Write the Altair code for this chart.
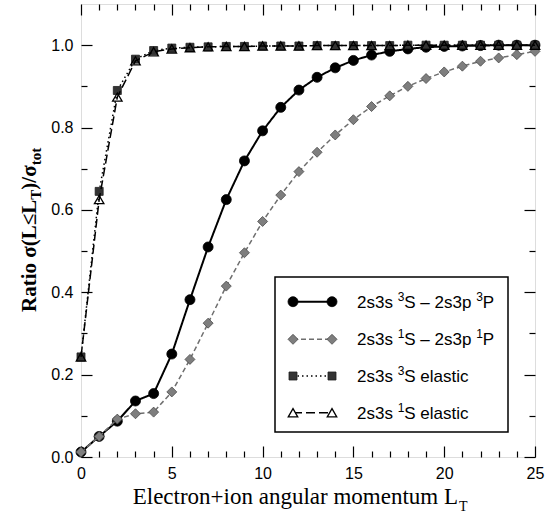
import altair as alt
import pandas as pd

# ---------------- data ----------------
L_values = list(range(26))
triplet_excitation = [0.012, 0.050, 0.087, 0.136, 0.154, 0.250, 0.382, 0.510, 0.625, 0.719,
                      0.792, 0.849, 0.891, 0.922, 0.945, 0.963, 0.976, 0.985, 0.991, 0.995,
                      0.997, 0.998, 0.999, 1.000, 1.000, 1.000]
singlet_excitation = [0.012, 0.050, 0.092, 0.105, 0.109, 0.158, 0.237, 0.325, 0.415, 0.496,
                      0.572, 0.636, 0.693, 0.740, 0.782, 0.819, 0.851, 0.877, 0.900, 0.919,
                      0.935, 0.949, 0.961, 0.969, 0.977, 0.985]
triplet_elastic = [0.243, 0.645, 0.890, 0.966, 0.987, 0.993, 0.995, 0.996, 0.997, 0.997,
                   0.998, 0.998, 0.998, 0.999, 0.999, 0.999, 0.999, 0.999, 1.000, 1.000,
                   1.000, 1.000, 1.000, 1.000, 1.000, 1.000]
singlet_elastic = [0.243, 0.625, 0.874, 0.962, 0.984, 0.991, 0.994, 0.996, 0.997, 0.997,
                   0.998, 0.998, 0.998, 0.999, 0.999, 0.999, 0.999, 0.999, 1.000, 1.000,
                   1.000, 1.000, 1.000, 1.000, 1.000, 1.000]

series_labels = ["2s3s ³S – 2s3p ³P", "2s3s ¹S – 2s3p ¹P", "2s3s ³S elastic", "2s3s ¹S elastic"]
# legend label pieces: (text, is_superscript)
legend_pieces = [
    [("2s3s ", False), ("3", True), ("S – 2s3p ", False), ("3", True), ("P", False)],
    [("2s3s ", False), ("1", True), ("S – 2s3p ", False), ("1", True), ("P", False)],
    [("2s3s ", False), ("3", True), ("S elastic", False)],
    [("2s3s ", False), ("1", True), ("S elastic", False)],
]
series_values = [triplet_excitation, singlet_excitation, triplet_elastic, singlet_elastic]

x_major_ticks = [0, 5, 10, 15, 20, 25]
x_minor_ticks = [i for i in range(26) if i % 5 != 0]
y_major_ticks = [0.0, 0.2, 0.4, 0.6, 0.8, 1.0]
y_minor_ticks = [0.1, 0.3, 0.5, 0.7, 0.9]

# ---------------- styles ----------------
styles = [
    dict(line="black", dash=[1, 0], lw=2.0, shape="circle", fill="black", stroke="black", size=100, filled=True),
    dict(line="#6e6e6e", dash=[5, 3], lw=1.5, shape="diamond", fill="#7e7e7e", stroke="#4a4a4a", size=100, filled=True),
    dict(line="black", dash=[1.5, 3], lw=1.5, shape="square", fill="#333333", stroke="#1e1e1e", size=64, filled=True),
    dict(line="black", dash=[9, 4], lw=1.5, shape="triangle-up", fill="white", stroke="black", size=90, filled=False),
]

W, H = 454, 453
XS = alt.Scale(domain=[0, 25], nice=False, zero=False)
YS = alt.Scale(domain=[0, 1.1], nice=False, zero=False)

layers = []
for lab, vals, st in zip(series_labels, series_values, styles):
    df = pd.DataFrame({"L": L_values, "ratio": vals, "series": lab})
    base = alt.Chart(df)
    enc = dict(x=alt.X("L:Q", scale=XS, axis=None), y=alt.Y("ratio:Q", scale=YS, axis=None))
    layers.append(base.mark_line(color=st["line"], strokeDash=st["dash"], strokeWidth=st["lw"]).encode(**enc))
    if st["filled"]:
        pt = base.mark_point(shape=st["shape"], filled=True, fill=st["fill"], stroke=st["stroke"],
                             strokeWidth=0.8, size=st["size"], opacity=1)
    else:
        pt = base.mark_point(shape=st["shape"], filled=False, stroke=st["stroke"],
                             strokeWidth=1.3, size=st["size"], opacity=1)
    layers.append(pt.encode(**enc))

# ---------------- axes (inward ticks on all four sides) ----------------
axis_df = pd.DataFrame({"L": L_values, "ratio": triplet_excitation})
common = dict(grid=False, domain=False, tickColor="black", tickWidth=1.2, labelFlush=False,
              labelFont="Liberation Sans", labelFontSize=16, labelColor="black", title=None)


def axis_layer(xaxis, yaxis):
    return alt.Chart(axis_df).mark_point(opacity=0).encode(
        x=alt.X("L:Q", scale=XS, axis=xaxis),
        y=alt.Y("ratio:Q", scale=YS, axis=yaxis),
    )


MAJ, MIN = 11, 6
layers.append(axis_layer(
    alt.Axis(orient="bottom", values=x_major_ticks, tickSize=MAJ, offset=-MAJ, labelPadding=8,
             format="d", **common),
    alt.Axis(orient="left", values=y_major_ticks, tickSize=MAJ, offset=-MAJ, labelPadding=8,
             format=".1f", **common)))
layers.append(axis_layer(
    alt.Axis(orient="bottom", values=x_minor_ticks, tickSize=MIN, offset=-MIN, labels=False, **common),
    alt.Axis(orient="left", values=y_minor_ticks, tickSize=MIN, offset=-MIN, labels=False, **common)))
layers.append(axis_layer(
    alt.Axis(orient="top", values=x_major_ticks, tickSize=MAJ, offset=-MAJ, labels=False, **common),
    alt.Axis(orient="right", values=y_major_ticks, tickSize=MAJ, offset=-MAJ, labels=False, **common)))
layers.append(axis_layer(
    alt.Axis(orient="top", values=x_minor_ticks, tickSize=MIN, offset=-MIN, labels=False, **common),
    alt.Axis(orient="right", values=y_minor_ticks, tickSize=MIN, offset=-MIN, labels=False, **common)))

one = pd.DataFrame({"k": [0]})


def txt(s, x, y, size, font, weight="normal", angle=0, align="left", baseline="alphabetic"):
    return alt.Chart(one).mark_text(text=s, font=font, fontSize=size, fontWeight=weight, angle=angle,
                                    align=align, baseline=baseline, color="black").encode(
        x=alt.value(x), y=alt.value(y))


serif = "Liberation Serif"
# x title
layers.append(txt("Electron+ion angular momentum L", 377, 500, 23, serif, align="right"))
layers.append(txt("T", 378, 507, 14, serif))
# y title (rotated)
layers.append(txt("Ratio σ(L≤L", -45, 308, 21, serif, "bold", 270))
layers.append(txt("T", -40, 195.7, 15, serif, "bold", 270))
layers.append(txt(")/σ", -45, 185.7, 21, serif, "bold", 270))
layers.append(txt("tot", -40, 161.3, 15, serif, "bold", 270))

# ---------------- legend ----------------
layers.append(alt.Chart(one).mark_rect(fill="white", stroke="black", strokeWidth=1.5).encode(
    x=alt.value(194), x2=alt.value(427), y=alt.value(273), y2=alt.value(428)))

# Arial / Liberation Sans advance widths (per 1000 em)
ADV = {"0": 556, "1": 556, "2": 556, "3": 556, "s": 500, "p": 556, "S": 667, "P": 667, " ": 278,
       "–": 556, "e": 556, "l": 222, "a": 556, "t": 278, "i": 222, "c": 500}
FS, SUP = 17, 12
row_y = [297.7, 335.3, 372.0, 408.7]
for pieces, st, ry in zip(legend_pieces, styles, row_y):
    layers.append(alt.Chart(one).mark_rule(color=st["line"], strokeDash=st["dash"], strokeWidth=st["lw"]).encode(
        x=alt.value(212), x2=alt.value(251), y=alt.value(ry)))
    for mx in (212, 251):
        if st["filled"]:
            m = alt.Chart(one).mark_point(shape=st["shape"], filled=True, fill=st["fill"], stroke=st["stroke"],
                                          strokeWidth=0.8, size=st["size"], opacity=1)
        else:
            m = alt.Chart(one).mark_point(shape=st["shape"], filled=True, fill="white", stroke=st["stroke"],
                                          strokeWidth=1.3, size=st["size"], opacity=1)
        layers.append(m.encode(x=alt.value(mx), y=alt.value(ry)))
    cx = 276.0
    for s, sup in pieces:
        size = SUP if sup else FS
        yy = ry + 6 - (7 if sup else 0)
        layers.append(txt(s, cx, yy, size, "Liberation Sans"))
        cx += sum(ADV.get(c, 556) for c in s) * size / 1000.0

chart = alt.layer(*layers).resolve_axis(x="independent", y="independent").properties(
    width=W, height=H,
    padding={"left": 81, "top": 4, "right": 19, "bottom": 66},
    autosize=alt.AutoSizeParams(type="none"),
).configure_view(stroke="black", strokeWidth=1.5).configure(background="white")

chart.save("out.html", embed_options={"renderer": "svg", "actions": False})
